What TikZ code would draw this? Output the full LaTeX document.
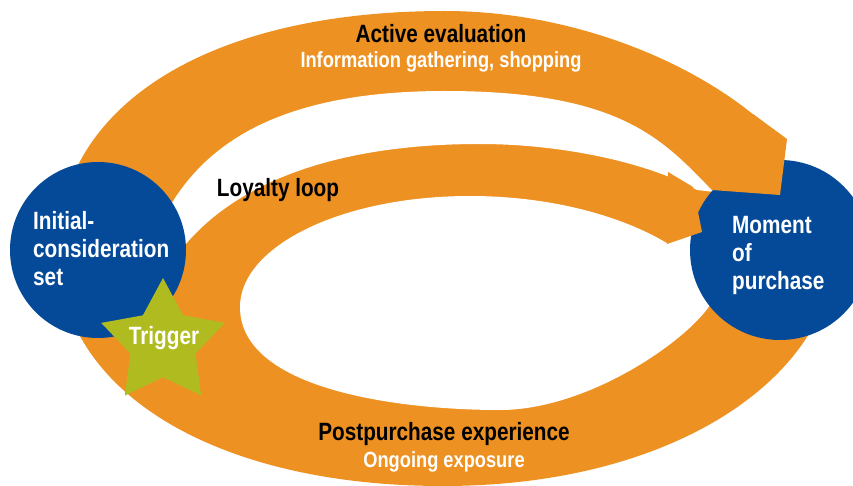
\documentclass[tikz,border=0pt]{standalone}
\usepackage{fontspec}
\setmainfont[FakeStretch=0.83]{Liberation Sans}
\usetikzlibrary{shapes.geometric}

\definecolor{loopOrange}{RGB}{238,145,35}
\definecolor{stageBlue}{RGB}{5,74,152}
\definecolor{triggerGreen}{RGB}{176,187,32}

\tikzset{
  band/.style={fill=loopOrange},
  gap/.style={fill=white},
  stage/.style={circle, fill=stageBlue, inner sep=0pt},
  heading/.style={font=\fontsize{25}{28}\selectfont\bfseries, text=black, inner sep=0pt},
  subhead/.style={font=\fontsize{22}{26}\selectfont\bfseries, text=white, inner sep=0pt},
  stagetext/.style={font=\fontsize{25}{28}\selectfont\bfseries, text=white, align=left, inner sep=0pt},
}

\begin{document}
\begin{tikzpicture}[x=1pt, y=-1pt]
    \useasboundingbox (0,0) rectangle (853,486);
    \clip (0,0) rectangle (853,486);

    % outer ring
    \fill[band] (834,250) .. controls (834,131) and (640,11) .. (445,11)
        .. controls (199,11) and (58,112) .. (58,250)
        .. controls (58,390) and (213,486) .. (443,486)
        .. controls (683,486) and (834,370) .. (834,250) -- cycle;

    % white gap between evaluation arc and loyalty arc
    \fill[gap] (165,215) .. controls (205,140) and (285,91) .. (445,91)
        .. controls (625,91) and (664,142) .. (714,192)
        -- (697,190) .. controls (647,162) and (560,144) .. (480,144)
        .. controls (340,144) and (240,180) .. (185,245) -- cycle;

    % inner hole
    \fill[gap] (240,307) .. controls (240,247) and (340,196) .. (470,196)
        .. controls (590,196) and (690,240) .. (716,290)
        .. controls (716,320) and (600,410) .. (500,410)
        .. controls (400,410) and (240,390) .. (240,307) -- cycle;
    \fill[gap] (667,244) -- (704,228) -- (712,300) -- (672,300) -- cycle; % under loyalty tip
    \fill[gap] (787,118) -- (853,118) -- (853,205) -- (780,205) -- cycle; % past evaluation tip

    % stage circles
    \node[stage, minimum size=176] (initial) at (98,250) {};
    \node[stage, minimum size=180] (purchase) at (780,250) {};

    % arrow ends lying on the purchase circle
    \fill[band] (695,172) -- (753,114) -- (787,139) -- (780,195) -- (712,190) -- cycle;
    \fill[band] (668,172) -- (693,187) -- (702,232) -- (667,244) -- cycle;

    % trigger star
    \node[star, star points=5, star point ratio=1.9, minimum size=130, fill=triggerGreen, inner sep=0pt] (trigger) at (163,343) {};

    % labels
    \node[heading, anchor=base] (active) at (441,43) {Active evaluation};
    \node[subhead, anchor=base] (activesub) at (441,68) {Information gathering, shopping};
    \node[heading, anchor=base] (loyalty) at (278,197) {Loyalty loop};
    \node[heading, anchor=base] (post) at (444,440) {Postpurchase experience};
    \node[subhead, anchor=base] (postsub) at (444,467) {Ongoing exposure};
    \node[stagetext, anchor=west] (initialtext) at (33,249) {Initial-\\consideration\\set};
    \node[stagetext, anchor=west] (purchasetext) at (732,255) {Moment\\of\\purchase};
    \node[heading, text=white, anchor=base] (triggertext) at (164,344) {Trigger};
\end{tikzpicture}
\end{document}
